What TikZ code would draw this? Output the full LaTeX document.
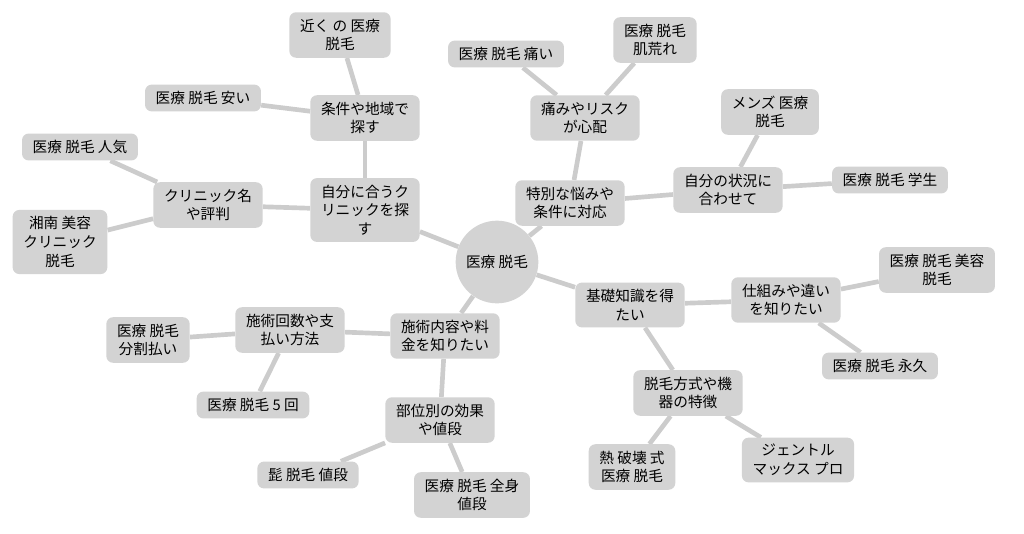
\documentclass[tikz,border=0pt]{standalone}
\usepackage{fontspec}
\setmainfont{Noto Sans CJK JP}
\usetikzlibrary{backgrounds}
\definecolor{boxgray}{HTML}{D3D3D3}
\definecolor{linegray}{HTML}{CCCCCC}
\tikzset{
  leaf/.style={rectangle, rounded corners=5pt, fill=boxgray, align=center,
    inner xsep=8pt, inner ysep=5pt, font=\fontsize{11}{14}\selectfont},
  hub/.style={circle, fill=boxgray, minimum size=62pt, inner sep=0pt,
    font=\fontsize{11}{14}\selectfont},
  branch/.style={draw=linegray, line width=3.5pt}
}
\begin{document}
\begin{tikzpicture}[x=0.75pt, y=-0.75pt]
  \useasboundingbox (0,0) rectangle (1024,533);
  \node[hub] (root) at (497,262) {医療 脱毛};

  \node[leaf] (find) at (365,210) {自分に合うク\\リニックを探\\す};
  \node[leaf] (area) at (365,118) {条件や地域で\\探す};
  \node[leaf] (near) at (340,35) {近く の 医療\\脱毛};
  \node[leaf] (cheap) at (203,98) {医療 脱毛 安い};
  \node[leaf] (name) at (208,205) {クリニック名\\や評判};
  \node[leaf] (popular) at (80,147) {医療 脱毛 人気};
  \node[leaf] (shonan) at (60,242) {湘南 美容\\クリニック\\脱毛};

  \node[leaf] (special) at (570,203) {特別な悩みや\\条件に対応};
  \node[leaf] (risk) at (585,118) {痛みやリスク\\が心配};
  \node[leaf] (pain) at (506,54) {医療 脱毛 痛い};
  \node[leaf] (skin) at (655,40) {医療 脱毛\\肌荒れ};
  \node[leaf] (self) at (728,190) {自分の状況に\\合わせて};
  \node[leaf] (mens) at (770,112) {メンズ 医療\\脱毛};
  \node[leaf] (student) at (890,180) {医療 脱毛 学生};

  \node[leaf] (basic) at (630,305) {基礎知識を得\\たい};
  \node[leaf] (how) at (786,300) {仕組みや違い\\を知りたい};
  \node[leaf] (beauty) at (937,270) {医療 脱毛 美容\\脱毛};
  \node[leaf] (forever) at (880,366) {医療 脱毛 永久};
  \node[leaf] (method) at (688,393) {脱毛方式や機\\器の特徴};
  \node[leaf] (heat) at (632,467) {熱 破壊 式\\医療 脱毛};
  \node[leaf] (gentle) at (798,460) {ジェントル\\マックス プロ};

  \node[leaf] (price) at (445,336) {施術内容や料\\金を知りたい};
  \node[leaf] (times) at (290,330) {施術回数や支\\払い方法};
  \node[leaf] (split) at (148,340) {医療 脱毛\\分割払い};
  \node[leaf] (five) at (253,405) {医療 脱毛 5 回};
  \node[leaf] (part) at (440,420) {部位別の効果\\や値段};
  \node[leaf] (beard) at (308,475) {髭 脱毛 値段};
  \node[leaf] (body) at (472,495) {医療 脱毛 全身\\値段};

  \begin{scope}[on background layer]
    \draw[branch] (root) -- (find);
    \draw[branch] (find) -- (area);
    \draw[branch] (area) -- (near);
    \draw[branch] (area) -- (cheap);
    \draw[branch] (find) -- (name);
    \draw[branch] (name) -- (popular);
    \draw[branch] (name) -- (shonan);
    \draw[branch] (root) -- (special);
    \draw[branch] (special) -- (risk);
    \draw[branch] (risk) -- (pain);
    \draw[branch] (risk) -- (skin);
    \draw[branch] (special) -- (self);
    \draw[branch] (self) -- (mens);
    \draw[branch] (self) -- (student);
    \draw[branch] (root) -- (basic);
    \draw[branch] (basic) -- (how);
    \draw[branch] (how) -- (beauty);
    \draw[branch] (how) -- (forever);
    \draw[branch] (basic) -- (method);
    \draw[branch] (method) -- (heat);
    \draw[branch] (method) -- (gentle);
    \draw[branch] (root) -- (price);
    \draw[branch] (price) -- (times);
    \draw[branch] (times) -- (split);
    \draw[branch] (times) -- (five);
    \draw[branch] (price) -- (part);
    \draw[branch] (part) -- (beard);
    \draw[branch] (part) -- (body);
  \end{scope}
\end{tikzpicture}
\end{document}
